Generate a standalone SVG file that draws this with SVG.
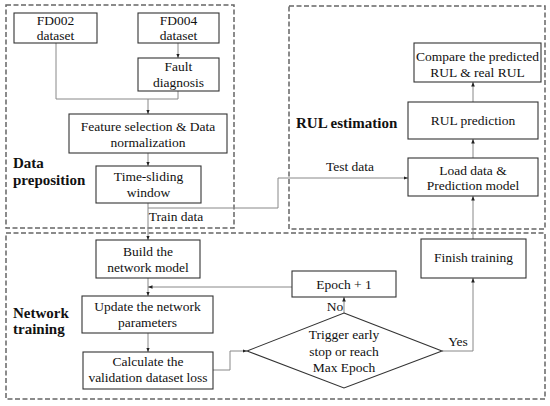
<svg xmlns="http://www.w3.org/2000/svg" width="550" height="406" viewBox="0 0 550 406">
<defs>
<marker id="ah" viewBox="0 0 10 10" refX="10" refY="5" markerWidth="4.5" markerHeight="4.5" orient="auto" markerUnits="userSpaceOnUse"><path d="M0,1 L10,5 L0,9 Z" fill="#222"/></marker>
<style>
.grp{fill:none;stroke:#666;stroke-width:1.5;stroke-dasharray:5,2.5}
.box{fill:#fff;stroke:#333;stroke-width:1.1}
text{font-family:'Liberation Serif','Times New Roman','DejaVu Serif',serif}
.t{font-size:13.5px;fill:#111;text-anchor:middle}
.b{font-size:15px;font-weight:bold;fill:#111}
.c{fill:none;stroke:#888;stroke-width:1}
.ca{fill:none;stroke:#888;stroke-width:1;marker-end:url(#ah)}
</style>
</defs>
<rect width="550" height="406" fill="#fff"/>
<g id="groups">
<rect class="grp" x="6" y="5" width="228" height="223"/>
<rect class="grp" x="289" y="6" width="256" height="223"/>
<rect class="grp" x="6" y="233" width="539" height="166"/>
<text class="b" x="13" y="168">Data</text>
<text class="b" x="13" y="185">preposition</text>
<text class="b" x="296" y="128">RUL estimation</text>
<text class="b" x="13" y="318">Network</text>
<text class="b" x="13" y="334">training</text>
</g>
<g id="connectors">
<polyline class="c" points="56,43 56,99 178,99"/>
<line class="c" x1="178" y1="91" x2="178" y2="99"/>
<line class="ca" x1="148" y1="99" x2="148" y2="114"/>
<line class="ca" x1="178" y1="43" x2="178" y2="58"/>
<line class="ca" x1="148" y1="153" x2="148" y2="166"/>
<line class="ca" x1="148" y1="203" x2="148" y2="240"/>
<polyline class="ca" points="148,208 278,208 278,178 408,178"/>
<line class="ca" x1="148" y1="278" x2="148" y2="296"/>
<polyline class="ca" points="292,287 148,287"/>
<line class="ca" x1="148" y1="333" x2="148" y2="352"/>
<polyline class="ca" points="213,370 230,370 230,351 247,351"/>
<line class="ca" x1="344" y1="313" x2="344" y2="297"/>
<polyline class="ca" points="442,351 473,351 473,278"/>
<line class="ca" x1="473" y1="239" x2="473" y2="196"/>
<line class="ca" x1="473" y1="158" x2="473" y2="139"/>
<line class="ca" x1="473" y1="102" x2="473" y2="82"/>
<text class="t" x="176" y="221">Train data</text>
<text class="t" x="350" y="171">Test data</text>
<text class="t" x="335" y="311">No</text>
<text class="t" x="458" y="346">Yes</text>
</g>
<g id="fd002"><rect class="box" x="14" y="13" width="83" height="30"/><text class="t" x="55.5" y="25">FD002</text><text class="t" x="55.5" y="40">dataset</text></g>
<g id="fd004"><rect class="box" x="138" y="13" width="81" height="30"/><text class="t" x="178.5" y="25">FD004</text><text class="t" x="178.5" y="40">dataset</text></g>
<g id="fault"><rect class="box" x="138" y="58" width="81" height="33"/><text class="t" x="178.5" y="71">Fault</text><text class="t" x="178.5" y="87">diagnosis</text></g>
<g id="feature"><rect class="box" x="69" y="114" width="158" height="39"/><text class="t" x="148" y="131">Feature selection &amp; Data</text><text class="t" x="148" y="147">normalization</text></g>
<g id="window"><rect class="box" x="96" y="166" width="105" height="37"/><text class="t" x="148.5" y="181">Time-sliding</text><text class="t" x="148.5" y="197">window</text></g>
<g id="compare"><rect class="box" x="414" y="43" width="127" height="39"/><text class="t" x="477.5" y="61">Compare the predicted</text><text class="t" x="477.5" y="77">RUL &amp; real RUL</text></g>
<g id="rulpred"><rect class="box" x="408" y="102" width="130" height="37"/><text class="t" x="473" y="125">RUL prediction</text></g>
<g id="load"><rect class="box" x="408" y="158" width="130" height="38"/><text class="t" x="473" y="175">Load data &amp;</text><text class="t" x="473" y="190">Prediction model</text></g>
<g id="build"><rect class="box" x="96" y="240" width="104" height="38"/><text class="t" x="148" y="256">Build the</text><text class="t" x="148" y="272">network model</text></g>
<g id="update"><rect class="box" x="82" y="296" width="131" height="37"/><text class="t" x="147.5" y="311">Update the network</text><text class="t" x="147.5" y="327">parameters</text></g>
<g id="calc"><rect class="box" x="83" y="352" width="130" height="37"/><text class="t" x="148" y="366">Calculate the</text><text class="t" x="148" y="382">validation dataset loss</text></g>
<g id="epoch"><rect class="box" x="292" y="271" width="104" height="26"/><text class="t" x="344" y="289">Epoch + 1</text></g>
<g id="finish"><rect class="box" x="421" y="239" width="105" height="39"/><text class="t" x="473.5" y="262">Finish training</text></g>
<g id="decision"><polygon class="box" points="344,313 442,351 344,388 247,351"/><text class="t" x="344" y="339">Trigger early</text><text class="t" x="344" y="356">stop or reach</text><text class="t" x="344" y="372">Max Epoch</text></g>
</svg>
